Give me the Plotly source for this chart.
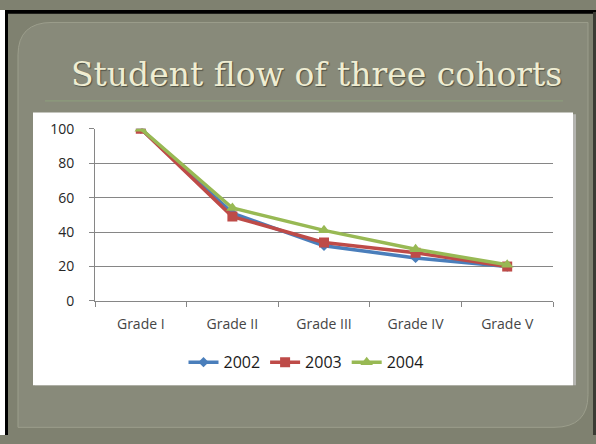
import plotly.graph_objects as go

W, H = 596, 444

grades = ["Grade I", "Grade II", "Grade III", "Grade IV", "Grade V"]
cohort_2002 = [100, 51, 32, 25, 20]
cohort_2003 = [100, 49, 34, 28, 20]
cohort_2004 = [100, 54, 41, 30, 21]
y_ticks = [0, 20, 40, 60, 80, 100]

def px(x):
    return x / W

def py(y):
    return 1 - y / H

fig = go.Figure()

series = [
    ("2002", cohort_2002, "#4a7ebb", "diamond", 8),
    ("2003", cohort_2003, "#be4b48", "square", 10),
    ("2004", cohort_2004, "#98b954", "triangle-up", 11),
]
for name, vals, col, sym, sz in series:
    fig.add_trace(go.Scatter(
        x=grades, y=vals, name=name, mode="lines+markers",
        line=dict(color=col, width=3.5),
        marker=dict(symbol=sym, size=sz, color=col),
    ))

# decorative background shapes
x0, y0, x1, y1, r = 18, 13, 588, 436, 34
path = (f"M {px(x0+r)},{py(y0)} L {px(x1)},{py(y0)} L {px(x1)},{py(y1-r)} "
        f"Q {px(x1)},{py(y1)} {px(x1-r)},{py(y1)} L {px(x0)},{py(y1)} "
        f"L {px(x0)},{py(y0+r)} Q {px(x0)},{py(y0)} {px(x0+r)},{py(y0)} Z")

shapes = [
    dict(type="rect", xref="paper", yref="paper", x0=0, x1=px(5), y0=0, y1=1,
         fillcolor="#ffffff", line=dict(width=0), layer="below"),
    dict(type="rect", xref="paper", yref="paper", x0=px(5), x1=px(8), y0=0, y1=py(2),
         fillcolor="#000000", line=dict(width=0), layer="below"),
    dict(type="rect", xref="paper", yref="paper", x0=px(5), x1=1, y0=py(4), y1=py(0),
         fillcolor="#000000", line=dict(width=0), layer="below"),
    dict(type="rect", xref="paper", yref="paper", x0=px(593), x1=1, y0=0, y1=py(2),
         fillcolor="#3a3b33", line=dict(width=0), layer="below"),
    dict(type="path", xref="paper", yref="paper", path=path,
         fillcolor="#888a7a", line=dict(color="#9c9e8c", width=1), layer="below"),
    dict(type="line", xref="paper", yref="paper", x0=px(45), x1=px(563), y0=py(95), y1=py(95),
         line=dict(color="#8ea27e", width=1), layer="below"),
    dict(type="rect", xref="paper", yref="paper", x0=px(35), x1=px(576), y0=py(392), y1=py(109),
         fillcolor="#b4b4b0", line=dict(width=0), layer="below"),
    dict(type="rect", xref="paper", yref="paper", x0=px(33), x1=px(573), y0=py(392), y1=py(107),
         fillcolor="#ffffff", line=dict(width=0), layer="below"),
]

fig.update_layout(
    width=W, height=H,
    margin=dict(l=0, r=0, t=0, b=0),
    paper_bgcolor="#7f8170",
    plot_bgcolor="#ffffff",
    shapes=shapes,
    showlegend=True,
    legend=dict(orientation="h", x=px(306), xanchor="center", y=py(368), yanchor="middle",
                font=dict(family="Open Sans", size=16, color="#1a1a1a"),
                bgcolor="rgba(0,0,0,0)", itemwidth=30, tracegroupgap=0),
    xaxis=dict(domain=[px(95), px(553)], type="category", categoryorder="array",
               categoryarray=grades, range=[-0.5, 4.5], tickson="boundaries",
               ticks="outside", ticklen=5, tickcolor="#868686", showline=True,
               linecolor="#868686", linewidth=1, showgrid=False, zeroline=False,
               tickfont=dict(family="Open Sans", size=14, color="#454545"),
               ticklabelstandoff=10, fixedrange=True),
    yaxis=dict(domain=[py(304), py(124)], range=[0, 100], tickvals=y_ticks,
               ticks="outside", ticklen=5, tickcolor="#868686", showline=True,
               linecolor="#868686", linewidth=1, showgrid=True, gridcolor="#868686",
               gridwidth=1, zeroline=False,
               tickfont=dict(family="Open Sans", size=14, color="#262626"),
               ticklabelstandoff=12, fixedrange=True),
    annotations=[dict(
        text="Student flow of three cohorts", xref="paper", yref="paper",
        x=px(316), y=py(67), xanchor="center", yanchor="middle", showarrow=False,
        font=dict(family="DejaVu Serif", size=33, color="#efedd2",
                  shadow="1px 1px 1px #4e5044"),
    )],
)

post = (
    "document.documentElement.style.margin='0';"
    "document.body.style.margin='0';"
    "document.body.style.padding='0';"
)

fig.write_html("out.html", config={"displayModeBar": False}, post_script=post)
